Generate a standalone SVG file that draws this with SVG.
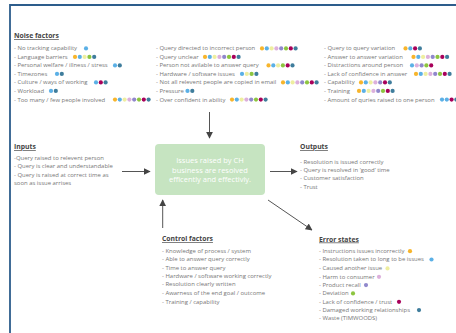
<svg xmlns="http://www.w3.org/2000/svg" width="456" height="333" viewBox="0 0 456 333">
<defs>
<marker id="ah" viewBox="0 0 10 10" refX="9" refY="5" markerWidth="7" markerHeight="7" markerUnits="userSpaceOnUse" orient="auto">
<path d="M0,0 L10,5 L0,10 z" fill="#444"/>
</marker>
<style>
.t{font-family:"Open Sans","Liberation Sans",sans-serif;font-size:5.95px;fill:#777}
.h{font-family:"Open Sans","Liberation Sans",sans-serif;font-size:6.8px;font-weight:bold;fill:#444;text-decoration:underline}
.b{font-family:"Open Sans","Liberation Sans",sans-serif;font-size:7.5px;fill:#fff;text-anchor:middle}
.c{stroke:#555;stroke-width:1;fill:none;marker-end:url(#ah)}
.o{fill:#f7b52c}.l{fill:#5bb0e6}.y{fill:#eeeea0}.p{fill:#dcb0dc}.u{fill:#9088cc}.g{fill:#8dc540}.m{fill:#a8005a}.k{fill:#3f7d9c}
</style>
</defs>
<rect width="456" height="333" fill="#fff"/>
<path d="M10,333 V5 H456" fill="none" stroke="#2d5d8c" stroke-width="1.8"/>

<g id="noise">
<text class="h" x="14" y="38">Noise factors</text>
<text class="t" x="14" y="50.3">- No tracking capability</text>
<text class="t" x="14" y="58.8">- Language barriers</text>
<text class="t" x="14" y="67.3">- Personal welfare / illness / stress</text>
<text class="t" x="14" y="75.8">- Timezones</text>
<text class="t" x="14" y="84.3">- Culture / ways of working</text>
<text class="t" x="14" y="92.8">- Workload</text>
<text class="t" x="14" y="101.5">- Too many / few people involved</text>
<text class="t" x="156" y="50.3">- Query directed to incorrect person</text>
<text class="t" x="156" y="58.8">- Query unclear</text>
<text class="t" x="156" y="67.3">- Person not avilable to answer query</text>
<text class="t" x="156" y="75.8">- Hardware / software issues</text>
<text class="t" x="156" y="84.3">- Not all relevent people are copied in email</text>
<text class="t" x="156" y="92.8">- Pressure</text>
<text class="t" x="156" y="101.5">- Over confident in ability</text>
<text class="t" x="324" y="50.3">- Query to query variation</text>
<text class="t" x="324" y="58.8">- Answer to answer variation</text>
<text class="t" x="324" y="67.3">- Distractions around person</text>
<text class="t" x="324" y="75.8">- Lack of confidence in answer</text>
<text class="t" x="324" y="84.3">- Capability</text>
<text class="t" x="324" y="92.8">- Training</text>
<text class="t" x="324" y="101.5">- Amount of quries raised to one person</text>
<circle class="l" cx="86" cy="48.4" r="2.1"/>
<g transform="translate(75,56.9)"><circle class="o" cx="0" r="2.1"/><circle class="l" cx="4.8" r="2.1"/><circle class="y" cx="9.6" r="2.1"/><circle class="g" cx="14.4" r="2.1"/><circle class="k" cx="19.2" r="2.1"/></g>
<g transform="translate(115,65.4)"><circle class="l" cx="0" r="2.1"/><circle class="k" cx="4.8" r="2.1"/></g>
<g transform="translate(57,73.9)"><circle class="l" cx="0" r="2.1"/><circle class="k" cx="4.8" r="2.1"/></g>
<g transform="translate(96,82.4)"><circle class="l" cx="0" r="2.1"/><circle class="m" cx="4.8" r="2.1"/><circle class="k" cx="9.6" r="2.1"/></g>
<g transform="translate(51,90.9)"><circle class="l" cx="0" r="2.1"/><circle class="k" cx="4.8" r="2.1"/></g>
<g transform="translate(115,99.6)"><circle class="o" cx="0" r="2.1"/><circle class="l" cx="4.8" r="2.1"/><circle class="y" cx="9.6" r="2.1"/><circle class="p" cx="14.4" r="2.1"/><circle class="u" cx="19.2" r="2.1"/><circle class="g" cx="24" r="2.1"/><circle class="m" cx="28.8" r="2.1"/><circle class="k" cx="33.6" r="2.1"/></g>
<g transform="translate(262,48.4)"><circle class="o" cx="0" r="2.1"/><circle class="l" cx="4.8" r="2.1"/><circle class="y" cx="9.6" r="2.1"/><circle class="p" cx="14.4" r="2.1"/><circle class="u" cx="19.2" r="2.1"/><circle class="g" cx="24" r="2.1"/><circle class="m" cx="28.8" r="2.1"/><circle class="k" cx="33.6" r="2.1"/></g>
<g transform="translate(205,56.9)"><circle class="o" cx="0" r="2.1"/><circle class="l" cx="4.8" r="2.1"/><circle class="y" cx="9.6" r="2.1"/><circle class="p" cx="14.4" r="2.1"/><circle class="u" cx="19.2" r="2.1"/><circle class="g" cx="24" r="2.1"/><circle class="m" cx="28.8" r="2.1"/><circle class="k" cx="33.6" r="2.1"/></g>
<g transform="translate(268.5,65.4)"><circle class="o" cx="0" r="2.1"/><circle class="l" cx="4.8" r="2.1"/><circle class="y" cx="9.6" r="2.1"/><circle class="g" cx="14.4" r="2.1"/><circle class="m" cx="19.2" r="2.1"/><circle class="k" cx="24" r="2.1"/></g>
<g transform="translate(242,73.9)"><circle class="l" cx="0" r="2.1"/><circle class="y" cx="4.8" r="2.1"/><circle class="g" cx="9.6" r="2.1"/><circle class="k" cx="14.4" r="2.1"/></g>
<g transform="translate(283,82.4)"><circle class="o" cx="0" r="2.1"/><circle class="l" cx="4.8" r="2.1"/><circle class="y" cx="9.6" r="2.1"/><circle class="p" cx="14.4" r="2.1"/><circle class="u" cx="19.2" r="2.1"/><circle class="g" cx="24" r="2.1"/><circle class="m" cx="28.8" r="2.1"/><circle class="k" cx="33.6" r="2.1"/></g>
<g transform="translate(187.5,90.9)"><circle class="l" cx="0" r="2.1"/><circle class="k" cx="4.8" r="2.1"/></g>
<g transform="translate(232,99.6)"><circle class="o" cx="0" r="2.1"/><circle class="l" cx="4.8" r="2.1"/><circle class="y" cx="9.6" r="2.1"/><circle class="p" cx="14.4" r="2.1"/><circle class="u" cx="19.2" r="2.1"/><circle class="g" cx="24" r="2.1"/><circle class="m" cx="28.8" r="2.1"/><circle class="k" cx="33.6" r="2.1"/></g>
<g transform="translate(405.5,48.4)"><circle class="o" cx="0" r="2.1"/><circle class="l" cx="4.8" r="2.1"/><circle class="m" cx="9.6" r="2.1"/><circle class="k" cx="14.4" r="2.1"/></g>
<g transform="translate(413.5,56.9)"><circle class="o" cx="0" r="2.1"/><circle class="l" cx="4.8" r="2.1"/><circle class="y" cx="9.6" r="2.1"/><circle class="p" cx="14.4" r="2.1"/><circle class="u" cx="19.2" r="2.1"/><circle class="g" cx="24" r="2.1"/><circle class="m" cx="28.8" r="2.1"/><circle class="k" cx="33.6" r="2.1"/></g>
<g transform="translate(412,65.4)"><circle class="l" cx="0" r="2.1"/><circle class="p" cx="4.8" r="2.1"/><circle class="u" cx="9.6" r="2.1"/><circle class="g" cx="14.4" r="2.1"/><circle class="m" cx="19.2" r="2.1"/></g>
<g transform="translate(416,73.9)"><circle class="o" cx="0" r="2.1"/><circle class="l" cx="4.8" r="2.1"/><circle class="y" cx="9.6" r="2.1"/><circle class="p" cx="14.4" r="2.1"/><circle class="u" cx="19.2" r="2.1"/><circle class="g" cx="24" r="2.1"/><circle class="m" cx="28.8" r="2.1"/><circle class="k" cx="33.6" r="2.1"/></g>
<g transform="translate(361,82.4)"><circle class="o" cx="0" r="2.1"/><circle class="l" cx="4.8" r="2.1"/><circle class="y" cx="9.6" r="2.1"/><circle class="p" cx="14.4" r="2.1"/><circle class="u" cx="19.2" r="2.1"/><circle class="m" cx="24" r="2.1"/><circle class="k" cx="28.8" r="2.1"/></g>
<g transform="translate(359,90.9)"><circle class="o" cx="0" r="2.1"/><circle class="l" cx="4.8" r="2.1"/><circle class="y" cx="9.6" r="2.1"/><circle class="p" cx="14.4" r="2.1"/><circle class="u" cx="19.2" r="2.1"/><circle class="g" cx="24" r="2.1"/><circle class="m" cx="28.8" r="2.1"/><circle class="k" cx="33.6" r="2.1"/></g>
<g transform="translate(442,99.6)"><circle class="l" cx="0" r="2.1"/><circle class="l" cx="4.8" r="2.1"/><circle class="m" cx="9.6" r="2.1"/><circle class="k" cx="14.4" r="2.1"/></g>
</g>

<g id="inputs">
<text class="h" x="14" y="149">Inputs</text>
<text class="t" x="14" y="160">-Query raised to relevent person</text>
<text class="t" x="14" y="168.3">- Query is clear and understandable</text>
<text class="t" x="14" y="176.6">- Query is raised at correct time as</text>
<text class="t" x="14" y="184.9">soon as issue arrises</text>
</g>

<g id="process">
<rect x="155" y="144" width="110" height="51" rx="4" fill="#c6e4c1"/>
<text class="b" x="210" y="163.3">Issues raised by CH</text>
<text class="b" x="210" y="172.6">business are resolved</text>
<text class="b" x="210" y="181.9">efficently  and effectivly.</text>
</g>

<g id="outputs">
<text class="h" x="300" y="149">Outputs</text>
<text class="t" x="300" y="163.7">- Resolution is issued correctly</text>
<text class="t" x="300" y="172">- Query is resolved in ‘good’ time</text>
<text class="t" x="300" y="180.3">- Customer satisfaction</text>
<text class="t" x="300" y="188.6">- Trust</text>
</g>

<g id="control">
<text class="h" x="162" y="241">Control factors</text>
<text class="t" x="162" y="253">- Knowledge of process / system</text>
<text class="t" x="162" y="261.3">- Able to answer query correctly</text>
<text class="t" x="162" y="269.7">- Time to answer query</text>
<text class="t" x="162" y="278">- Hardware / software working correctly</text>
<text class="t" x="162" y="286.3">- Resolution clearly written</text>
<text class="t" x="162" y="295.3">- Awarness of the end goal / outcome</text>
<text class="t" x="162" y="303.7">- Training / capability</text>
</g>

<g id="errors">
<text class="h" x="319" y="241.5">Error states</text>
<text class="t" x="319" y="253">- Instructions issues incorrectly</text>
<text class="t" x="319" y="261.3">- Resolution taken to long to be issues</text>
<text class="t" x="319" y="270.3">- Caused another issue</text>
<text class="t" x="319" y="278.7">- Harm to consumer</text>
<text class="t" x="319" y="287">- Product recall</text>
<text class="t" x="319" y="295.3">- Deviation</text>
<text class="t" x="319" y="303.7">- Lack of confidence / trust</text>
<text class="t" x="319" y="312">- Damaged working relationships</text>
<text class="t" x="319" y="320.3">- Waste (TIMWOODS)</text>
<circle class="o" cx="410" cy="251.2" r="2.1"/>
<circle class="l" cx="431.5" cy="259.5" r="2.1"/>
<circle class="y" cx="387.5" cy="268.4" r="2.1"/>
<circle class="p" cx="379" cy="276.8" r="2.1"/>
<circle class="u" cx="366" cy="285.1" r="2.1"/>
<circle class="g" cx="353" cy="293.4" r="2.1"/>
<circle class="m" cx="399" cy="301.8" r="2.1"/>
<circle class="k" cx="419" cy="310.1" r="2.1"/>
</g>

<g id="connectors">
<line class="c" x1="209.5" y1="112" x2="209.5" y2="138"/>
<line class="c" x1="122" y1="171.5" x2="150" y2="171.5"/>
<line class="c" x1="270" y1="171.5" x2="297" y2="171.5"/>
<line class="c" x1="268" y1="200" x2="312" y2="230"/>
<line class="c" x1="162.7" y1="228" x2="162.7" y2="200"/>
</g>
</svg>
